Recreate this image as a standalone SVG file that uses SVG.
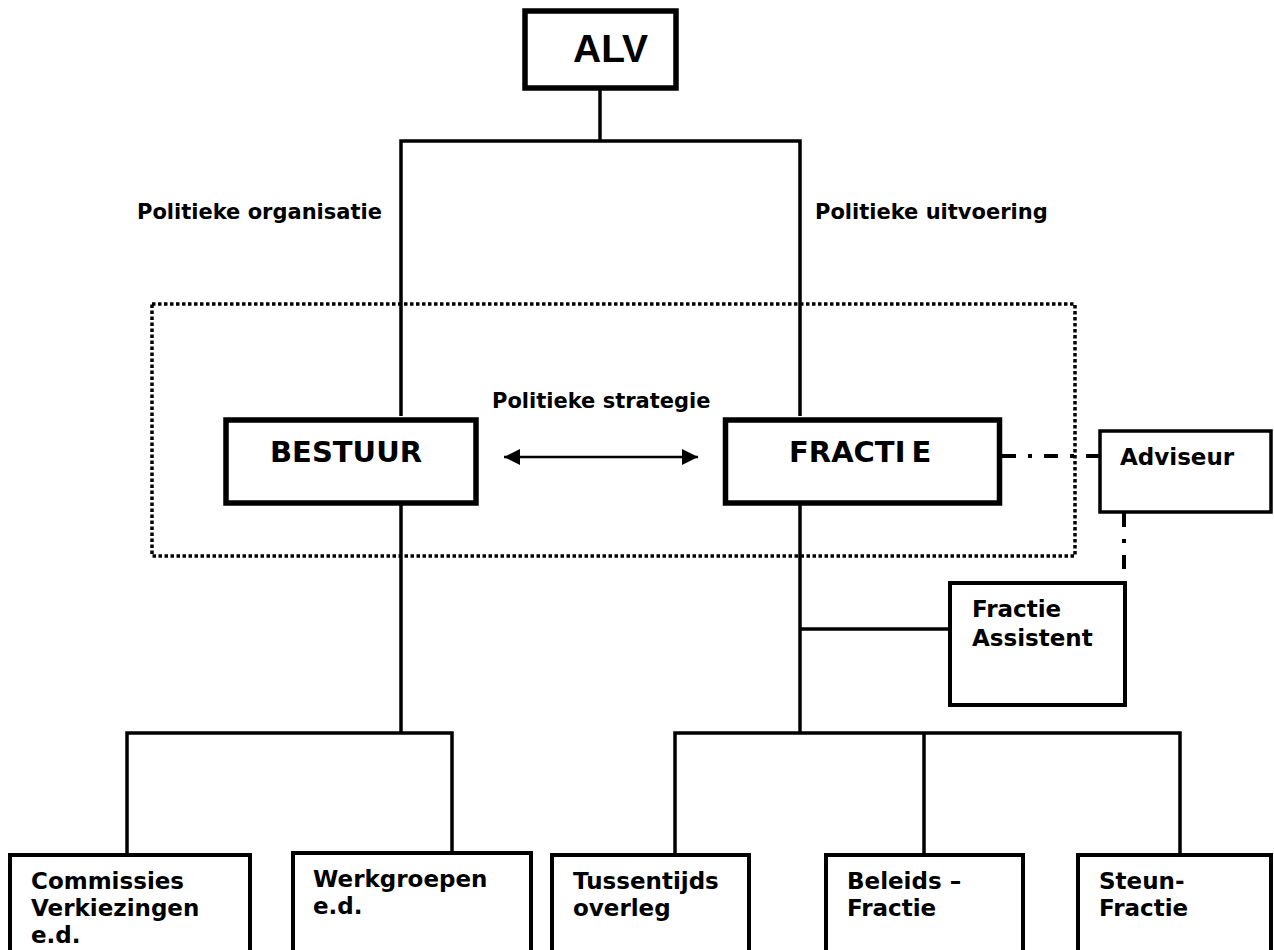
<svg xmlns="http://www.w3.org/2000/svg" width="1274" height="950" viewBox="0 0 1274 950">
<style>
  .box{fill:#fff;stroke:#000}
  .b5{stroke-width:5.5}
  .b4{stroke-width:4}
  .b3{stroke-width:3.5}
  .ln{fill:none;stroke:#000;stroke-width:3.5}
  .dd{fill:none;stroke:#000;stroke-width:4;stroke-dasharray:14 12 4 12}
  .dot{fill:none;stroke:#000;stroke-width:3.5;stroke-dasharray:3.5 2.5}
  .t{font-family:"DejaVu Sans",Verdana,sans-serif;font-weight:bold;fill:#000}
  .big{font-size:29px}
  .lbl{font-size:21px}
  .nl{font-size:23px}
</style>
<defs>
  <marker id="ah" viewBox="0 0 10 10" refX="10" refY="5" markerWidth="6.5" markerHeight="6.5" markerUnits="strokeWidth" orient="auto-start-reverse">
    <path d="M0,0 L10,5 L0,10 z" fill="#000"/>
  </marker>
</defs>
<rect width="1274" height="950" fill="#fff"/>

<g id="frame">
  <rect class="dot" x="152" y="304" width="923" height="252"/>
</g>

<g id="connectors">
  <line class="ln" x1="600" y1="88" x2="600" y2="141"/>
  <polyline class="ln" points="401,416 401,141 800,141 800,416"/>
  <line class="ln" x1="401" y1="505" x2="401" y2="733"/>
  <polyline class="ln" points="127,853 127,733 452,733 452,851"/>
  <line class="ln" x1="800" y1="505" x2="800" y2="733"/>
  <line class="ln" x1="800" y1="629" x2="950" y2="629"/>
  <polyline class="ln" points="675,853 675,733 1180,733 1180,853"/>
  <line class="ln" x1="924" y1="733" x2="924" y2="853"/>
  <line fill="none" stroke="#000" stroke-width="2.5" x1="504" y1="457" x2="698" y2="457" marker-start="url(#ah)" marker-end="url(#ah)"/>
  <line class="dd" x1="1002" y1="456" x2="1099" y2="456"/>
  <line class="dd" x1="1124" y1="513" x2="1124" y2="583"/>
  <text class="t lbl" x="137" y="219">Politieke organisatie</text>
  <text class="t lbl" x="815" y="219">Politieke uitvoering</text>
  <text class="t lbl" x="492" y="408">Politieke strategie</text>
</g>

<g id="alv">
  <rect class="box b5" x="525" y="11" width="151" height="77"/>
  <text x="573" y="62" style="font-family:'Liberation Sans',Arial,sans-serif;font-weight:bold;font-size:39px">ALV</text>
</g>

<g id="bestuur">
  <rect class="box b5" x="226" y="420" width="250" height="83"/>
  <text class="t big" x="270" y="462">BESTUUR</text>
</g>

<g id="fractie">
  <rect class="box b5" x="725.5" y="420" width="274" height="83"/>
  <text class="t big" x="789" y="462">FRACTI<tspan dx="6">E</tspan></text>
</g>

<g id="adviseur">
  <rect class="box b3" x="1100" y="431" width="171" height="81"/>
  <text class="t nl" x="1120" y="465">Adviseur</text>
</g>

<g id="fractie-assistent">
  <rect class="box b4" x="950" y="583" width="175" height="122"/>
  <text class="t nl" x="972" y="617">Fractie</text>
  <text class="t nl" x="972" y="646">Assistent</text>
</g>

<g id="commissies">
  <rect class="box b4" x="10" y="855" width="240" height="110"/>
  <text class="t nl" x="31" y="889">Commissies</text>
  <text class="t nl" x="31" y="916">Verkiezingen</text>
  <text class="t nl" x="31" y="943">e.d.</text>
</g>

<g id="werkgroepen">
  <rect class="box b4" x="293" y="853" width="238" height="110"/>
  <text class="t nl" x="313" y="887">Werkgroepen</text>
  <text class="t nl" x="313" y="914">e.d.</text>
</g>

<g id="tussentijds">
  <rect class="box b4" x="552" y="855" width="197" height="110"/>
  <text class="t nl" x="573" y="889">Tussentijds</text>
  <text class="t nl" x="573" y="916">overleg</text>
</g>

<g id="beleids">
  <rect class="box b4" x="826" y="855" width="197" height="110"/>
  <text class="t nl" x="847" y="889">Beleids –</text>
  <text class="t nl" x="847" y="916">Fractie</text>
</g>

<g id="steun">
  <rect class="box b4" x="1078" y="855" width="193" height="110"/>
  <text class="t nl" x="1099" y="889">Steun-</text>
  <text class="t nl" x="1099" y="916">Fractie</text>
</g>
</svg>
